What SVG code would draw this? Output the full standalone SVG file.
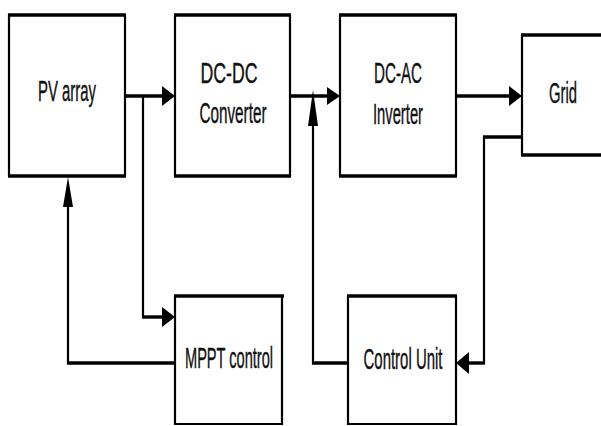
<svg xmlns="http://www.w3.org/2000/svg" width="601" height="426" viewBox="0 0 601 426">
  <style>
    .bg { fill: #ffffff; }
    .box { fill: #ffffff; stroke: none; }
    .h { stroke: #000; stroke-width: 3.4; fill: none; }
    .v { stroke: #000; stroke-width: 2.2; fill: none; }
    .head { fill: #000; stroke: none; }
    .label { font-family: "Liberation Sans", Arial, sans-serif; font-size: 29px; fill: #111; stroke: #111; stroke-width: 0.4; text-anchor: middle; }
  </style>
  <rect class="bg" x="0" y="0" width="601" height="426"/>

  <!-- PV array -->
  <g id="pv-array">
    <rect class="box" x="9" y="15" width="116" height="161"/>
    <path class="h" d="M8 15H126M8 176H126"/>
    <path class="v" d="M9 15V176M125 15V176"/>
    <text class="label" x="67" y="101" textLength="58" lengthAdjust="spacingAndGlyphs">PV array</text>
  </g>

  <!-- DC-DC converter -->
  <g id="dc-dc">
    <rect class="box" x="175" y="15" width="115" height="161"/>
    <path class="h" d="M174 15H291M174 176H291"/>
    <path class="v" d="M175 15V176M290 15V176"/>
    <text class="label" x="229" y="83" textLength="57" lengthAdjust="spacingAndGlyphs">DC-DC</text>
    <text class="label" x="233" y="123" textLength="67" lengthAdjust="spacingAndGlyphs">Converter</text>
  </g>

  <!-- DC-AC inverter -->
  <g id="dc-ac">
    <rect class="box" x="340" y="15" width="116" height="161"/>
    <path class="h" d="M339 15H457M339 176H457"/>
    <path class="v" d="M340 15V176M456 15V176"/>
    <text class="label" x="398" y="83" textLength="48" lengthAdjust="spacingAndGlyphs">DC-AC</text>
    <text class="label" x="398" y="124" textLength="50" lengthAdjust="spacingAndGlyphs">Inverter</text>
  </g>

  <!-- Grid -->
  <g id="grid">
    <rect class="box" x="522" y="35" width="85" height="120"/>
    <path class="h" d="M521 35H605M521 155H605"/>
    <path class="v" d="M522 35V155"/>
    <text class="label" x="563" y="103" textLength="28" lengthAdjust="spacingAndGlyphs">Grid</text>
  </g>

  <!-- MPPT control -->
  <g id="mppt">
    <rect class="box" x="175" y="296" width="108" height="128"/>
    <path class="h" d="M174 296H284"/>
    <path class="v" d="M175 296V425M282 296V425"/>
    <path class="v" d="M175 424H282"/>
    <text class="label" x="229" y="368" textLength="88" lengthAdjust="spacingAndGlyphs">MPPT control</text>
  </g>

  <!-- Control unit -->
  <g id="control-unit">
    <rect class="box" x="348" y="296" width="108" height="128"/>
    <path class="h" d="M347 296H457"/>
    <path class="v" d="M348 296V425M456 296V425"/>
    <path class="v" d="M348 424H456"/>
    <text class="label" x="403" y="369" textLength="79" lengthAdjust="spacingAndGlyphs">Control Unit</text>
  </g>

  <!-- Connectors -->
  <g id="connectors">
    <!-- PV array to DC-DC, with branch to MPPT -->
    <path class="h" d="M125 96H163"/>
    <polygon class="head" points="175,96 162,86 162,106"/>
    <path class="v" d="M143 96V317"/>
    <path class="h" d="M142 317H163"/>
    <polygon class="head" points="175,317 162,307 162,327"/>

    <!-- MPPT back to PV array -->
    <path class="h" d="M175 363H67"/>
    <path class="v" d="M68 364V205"/>
    <polygon class="head" points="68,177 63,207 73,207"/>

    <!-- DC-DC to DC-AC -->
    <path class="h" d="M290 96H328"/>
    <polygon class="head" points="340,96 327,87 327,105"/>

    <!-- Control unit to DC link -->
    <path class="h" d="M348 363H312"/>
    <path class="v" d="M313 364V124"/>
    <polygon class="head" points="313,90 308,126 318,126"/>

    <!-- DC-AC to Grid -->
    <path class="h" d="M456 96H510"/>
    <polygon class="head" points="522,96 509,86 509,106"/>

    <!-- Grid feedback to control unit -->
    <path class="h" d="M522 137H483"/>
    <path class="v" d="M484 136V364"/>
    <path class="h" d="M485 363H468"/>
    <polygon class="head" points="456,363 469,352 469,374"/>
  </g>
</svg>
